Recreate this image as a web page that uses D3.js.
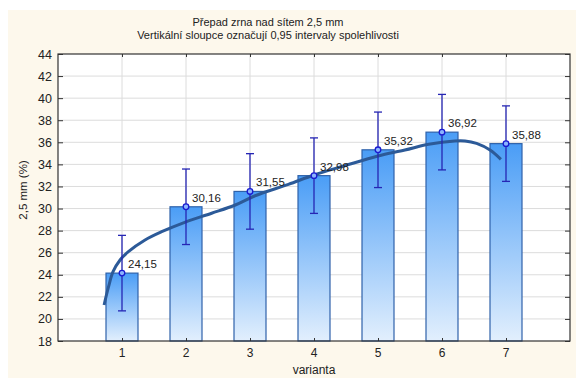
<!DOCTYPE html>
<html>
<head>
<meta charset="utf-8">
<script src="https://cdn.jsdelivr.net/npm/d3@7"></script>
<style>
  body { margin: 0; background: #fff; }
  svg { display: block; font-family: Arial, "Liberation Sans", sans-serif; }
</style>
</head>
<body>
<div id="chart"></div>
<script>
// values
const categories = [1, 2, 3, 4, 5, 6, 7]
const means = [24.15, 30.16, 31.55, 32.98, 35.32, 36.92, 35.88]
const upper = [27.57, 33.58, 34.97, 36.40, 38.74, 40.34, 39.30]
const lower = [20.73, 26.74, 28.13, 29.56, 31.90, 33.50, 32.46]
const yTicks = [18, 20, 22, 24, 26, 28, 30, 32, 34, 36, 38, 40, 42, 44]
const labels = ["24,15", "30,16", "31,55", "32,98", "35,32", "36,92", "35,88"]

// fitted curve, points
const curveX = [0.72, 0.79, 0.86, 0.97, 1.10, 1.36, 1.62, 1.98, 2.40, 2.77, 3.08, 3.60, 4.00, 4.48, 5.00, 5.42, 5.79, 6.20, 6.36, 6.54, 6.75, 6.92]
const curveY = [21.26, 22.92, 24.28, 25.34, 26.09, 27.15, 27.90, 28.75, 29.57, 30.32, 31.16, 32.19, 33.04, 33.88, 34.76, 35.30, 35.82, 36.12, 36.12, 35.90, 35.30, 34.46]

const W = 576, H = 378
const plot = {left: 58, right: 570, top: 54, bottom: 341}

const svg = d3.select("#chart")
  .append("svg")
    .attr("width", W)
    .attr("height", H)

// cream panel behind everything
svg.append("rect")
  .attr("x", 8).attr("y", 10)
  .attr("width", W - 8).attr("height", H - 10)
  .attr("fill", "#fdf8ec")

svg.append("rect")
  .attr("x", plot.left).attr("y", plot.top)
  .attr("width", plot.right - plot.left).attr("height", plot.bottom - plot.top)
  .attr("fill", "#fff")

const x = d3.scaleLinear().domain([0, 8]).range([plot.left, plot.right])
const y = d3.scaleLinear().domain([18, 44]).range([plot.bottom, plot.top])

const defs = svg.append("defs")
const grad = defs.append("linearGradient")
  .attr("id", "barFill")
  .attr("x1", 0).attr("y1", 0).attr("x2", 0).attr("y2", 1)
grad.append("stop").attr("offset", "0%").attr("stop-color", "#4a9df6")
grad.append("stop").attr("offset", "100%").attr("stop-color", "#e2effd")

// grid
svg.append("g")
  .selectAll("line")
  .data(yTicks.slice(1, -1))
  .enter()
  .append("line")
    .attr("x1", plot.left).attr("x2", plot.right)
    .attr("y1", d => y(d)).attr("y2", d => y(d))
    .attr("stroke", "#dcdcdc")

svg.append("g")
  .selectAll("line")
  .data(categories)
  .enter()
  .append("line")
    .attr("x1", d => x(d)).attr("x2", d => x(d))
    .attr("y1", plot.top).attr("y2", plot.bottom)
    .attr("stroke", "#dcdcdc")

// bars
const bw = x(1) - x(0.5)
svg.append("g")
  .selectAll("rect")
  .data(categories)
  .enter()
  .append("rect")
    .attr("x", d => x(d) - bw / 2)
    .attr("y", (d, i) => y(means[i]))
    .attr("width", bw)
    .attr("height", (d, i) => y(18) - y(means[i]))
    .attr("fill", "url(#barFill)")
    .attr("stroke", "#2f62aa")
    .attr("stroke-width", 1.2)

// fitted curve
const line = d3.line()
  .x(d => x(d[0]))
  .y(d => y(d[1]))
  .curve(d3.curveCatmullRom)

svg.append("path")
  .datum(curveX.map((v, i) => [v, curveY[i]]))
  .attr("d", line)
  .attr("fill", "none")
  .attr("stroke", "#2c5a98")
  .attr("stroke-width", 3)

// error bars
const eb = svg.append("g").attr("stroke", "#2626b4").attr("stroke-width", 1.3)
categories.forEach((c, i) => {
  eb.append("line")
    .attr("x1", x(c)).attr("x2", x(c))
    .attr("y1", y(upper[i])).attr("y2", y(lower[i]))
  eb.append("line")
    .attr("x1", x(c) - 4).attr("x2", x(c) + 4)
    .attr("y1", y(upper[i])).attr("y2", y(upper[i]))
  eb.append("line")
    .attr("x1", x(c) - 4).attr("x2", x(c) + 4)
    .attr("y1", y(lower[i])).attr("y2", y(lower[i]))
})

svg.append("g")
  .selectAll("circle")
  .data(categories)
  .enter()
  .append("circle")
    .attr("cx", d => x(d))
    .attr("cy", (d, i) => y(means[i]))
    .attr("r", 2.8)
    .attr("fill", "#8bb4ff")
    .attr("stroke", "#1a1ad0")
    .attr("stroke-width", 1.3)

svg.append("g")
  .selectAll("text")
  .data(categories)
  .enter()
  .append("text")
    .attr("x", d => x(d) + 6)
    .attr("y", (d, i) => y(means[i]) - 5)
    .attr("font-size", 11.5)
    .attr("fill", "#222")
    .text((d, i) => labels[i])

// axes with inward ticks
svg.append("g")
  .attr("transform", `translate(${plot.left},0)`)
  .call(d3.axisRight(y).tickValues(yTicks).tickSize(5).tickFormat(""))
  .call(g => g.select(".domain").remove())
  .selectAll("line").attr("stroke", "#333")

svg.append("g")
  .attr("transform", `translate(${plot.right},0)`)
  .call(d3.axisLeft(y).tickValues(yTicks).tickSize(5).tickFormat(""))
  .call(g => g.select(".domain").remove())
  .selectAll("line").attr("stroke", "#333")

svg.append("g")
  .attr("transform", `translate(0,${plot.top})`)
  .call(d3.axisBottom(x).tickValues(categories).tickSize(3).tickFormat(""))
  .call(g => g.select(".domain").remove())
  .selectAll("line").attr("stroke", "#333")

svg.append("g")
  .attr("transform", `translate(0,${plot.bottom})`)
  .call(d3.axisTop(x).tickValues(categories).tickSize(3).tickFormat(""))
  .call(g => g.select(".domain").remove())
  .selectAll("line").attr("stroke", "#333")

// tick labels
svg.append("g")
  .selectAll("text")
  .data(yTicks)
  .enter()
  .append("text")
    .attr("x", plot.left - 6)
    .attr("y", d => y(d) + 4.5)
    .attr("text-anchor", "end")
    .attr("font-size", 12.5)
    .attr("fill", "#222")
    .text(d => d)

svg.append("g")
  .selectAll("text")
  .data(categories)
  .enter()
  .append("text")
    .attr("x", d => x(d))
    .attr("y", plot.bottom + 16)
    .attr("text-anchor", "middle")
    .attr("font-size", 12)
    .attr("fill", "#222")
    .text(d => d)

// frame
svg.append("rect")
  .attr("x", plot.left).attr("y", plot.top)
  .attr("width", plot.right - plot.left).attr("height", plot.bottom - plot.top)
  .attr("fill", "none")
  .attr("stroke", "#333")
  .attr("stroke-width", 1.2)

// titles
svg.append("text")
  .attr("x", 268).attr("y", 26)
  .attr("text-anchor", "middle")
  .attr("font-size", 11)
  .attr("fill", "#222")
  .text("Přepad zrna nad sítem 2,5 mm")

svg.append("text")
  .attr("x", 268).attr("y", 38.5)
  .attr("text-anchor", "middle")
  .attr("font-size", 11)
  .attr("fill", "#222")
  .text("Vertikální sloupce označují 0,95 intervaly spolehlivosti")

svg.append("text")
  .attr("x", x(4)).attr("y", 374)
  .attr("text-anchor", "middle")
  .attr("font-size", 12)
  .attr("fill", "#222")
  .text("varianta")

svg.append("text")
  .attr("transform", "translate(27,190) rotate(-90)")
  .attr("text-anchor", "middle")
  .attr("font-size", 11.5)
  .attr("fill", "#222")
  .text("2,5 mm (%)")
</script>
</body>
</html>
